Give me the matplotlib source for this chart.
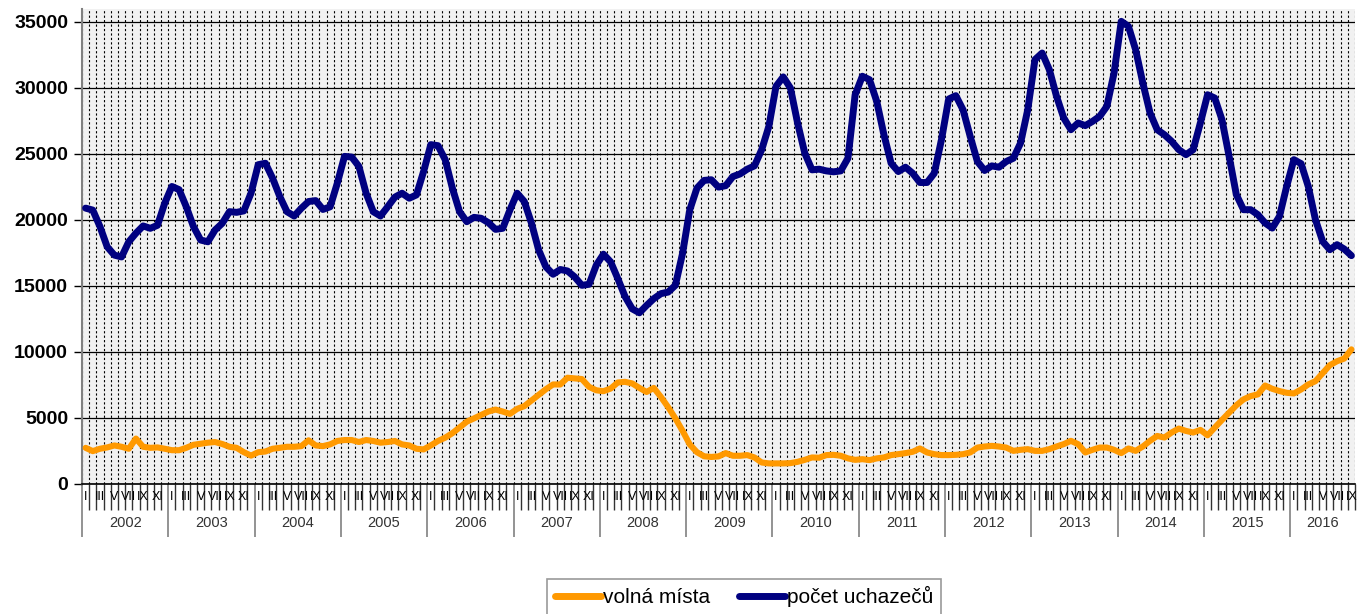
import numpy as np
import matplotlib
matplotlib.use("Agg")
import matplotlib.pyplot as plt
from matplotlib.transforms import blended_transform_factory

plt.rcParams["font.family"] = ["Liberation Sans", "DejaVu Sans"]

# monthly values, Jan 2002 - Sep 2016
years = [str(y) for y in range(2002, 2017)]
month_labels = ["I", "", "III", "", "V", "", "VII", "", "IX", "", "XI", ""]

volna_mista = [
    2740, 2490, 2670, 2770, 2920, 2820, 2670, 3440, 2820, 2740, 2770, 2670,   # 2002
    2560, 2560, 2740, 2970, 3050, 3130, 3180, 3030, 2820, 2740, 2410, 2150,   # 2003
    2410, 2460, 2670, 2740, 2820, 2820, 2870, 3310, 2920, 2870, 3000, 3260,   # 2004
    3330, 3330, 3180, 3330, 3260, 3130, 3180, 3260, 3000, 2920, 2670, 2620,   # 2005
    2920, 3260, 3510, 3850, 4280, 4720, 4970, 5230, 5490, 5640, 5490, 5310,   # 2006
    5690, 5900, 6330, 6770, 7180, 7540, 7540, 8050, 8000, 7950, 7360, 7100,   # 2007
    7030, 7230, 7690, 7740, 7620, 7280, 6970, 7280, 6590, 5820, 4970, 4030,   # 2008
    3000, 2410, 2100, 2050, 2090, 2340, 2140, 2140, 2190, 2010, 1630, 1560,   # 2009
    1560, 1560, 1580, 1680, 1830, 2010, 1990, 2190, 2210, 2140, 1940, 1830,   # 2010
    1880, 1810, 1940, 2010, 2190, 2260, 2340, 2440, 2690, 2390, 2260, 2190,   # 2011
    2190, 2210, 2260, 2390, 2760, 2840, 2890, 2840, 2760, 2510, 2590, 2640,   # 2012
    2510, 2510, 2640, 2840, 3020, 3270, 3020, 2390, 2590, 2760, 2760, 2590,   # 2013
    2340, 2690, 2510, 2840, 3270, 3640, 3520, 3900, 4200, 4020, 3900, 4100,   # 2014
    3690, 4270, 4850, 5400, 5960, 6410, 6660, 6790, 7460, 7210, 7040, 6910,   # 2015
    6860, 7160, 7540, 7790, 8400, 9000, 9300, 9500, 10200,                    # 2016
]

pocet_uchazecu = [
    20900, 20750, 19500, 17970, 17340, 17200, 18350, 19000, 19550, 19370, 19600, 21270,  # 2002
    22540, 22300, 21000, 19500, 18480, 18350, 19240, 19750, 20630, 20580, 20690, 22030,  # 2003
    24190, 24300, 23170, 21780, 20630, 20300, 20890, 21400, 21470, 20800, 21000, 22790,  # 2004
    24820, 24770, 24060, 22030, 20630, 20300, 21000, 21730, 22030, 21650, 21900, 23680,  # 2005
    25710, 25630, 24570, 22410, 20630, 19870, 20200, 20130, 19800, 19290, 19370, 20760,  # 2006
    22030, 21400, 19750, 17720, 16450, 15890, 16250, 16140, 15690, 15050, 15130, 16570,  # 2007
    17410, 16830, 15560, 14210, 13270, 12970, 13530, 14040, 14420, 14540, 15050, 17460,  # 2008
    20760, 22410, 23000, 23050, 22490, 22600, 23290, 23490, 23850, 24100, 25320, 27090,  # 2009
    30130, 30840, 30000, 27340, 25060, 23800, 23850, 23720, 23650, 23720, 24680, 29490,  # 2010
    30890, 30630, 28990, 26460, 24300, 23670, 24000, 23540, 22840, 22840, 23540, 26080,  # 2011
    29160, 29420, 28350, 26330, 24430, 23750, 24100, 24000, 24430, 24680, 25830, 28360,  # 2012
    32150, 32650, 31390, 29370, 27730, 26840, 27350, 27150, 27470, 27850, 28610, 31140,  # 2013
    35050, 34670, 32900, 30380, 28110, 26840, 26460, 25960, 25330, 24950, 25330, 27350,  # 2014
    29490, 29240, 27600, 24820, 21920, 20780, 20780, 20400, 19770, 19390, 20280, 22550,  # 2015
    24570, 24270, 22550, 20030, 18380, 17750, 18130, 17800, 17300,                      # 2016
]

ORANGE = "#ff9900"
NAVY = "#000080"
GREY = "#808080"

n = len(pocet_uchazecu)
x = np.arange(n)

fig = plt.figure(figsize=(13.57, 6.14), dpi=100)
ax = fig.add_axes([82 / 1357, 1 - 484 / 614, 1273 / 1357, (484 - 8.8) / 614])
ax.set_facecolor("#f1f1f1")

ax.plot(x, volna_mista, color=ORANGE, lw=4.4, solid_joinstyle="round",
        solid_capstyle="round", label="volná místa", zorder=3)
ax.plot(x, pocet_uchazecu, color=NAVY, lw=5.0, solid_joinstyle="round",
        solid_capstyle="round", label="počet uchazečů", zorder=3)

ax.set_xlim(-0.5, n - 0.5)
ax.set_ylim(0, 36000)
ax.set_yticks(np.arange(0, 35001, 5000))
ax.set_yticklabels([str(v) for v in range(0, 35001, 5000)], fontsize=14, fontweight="bold")
ax.tick_params(axis="y", length=6, width=1, color="black", pad=4)

# month boundaries (minor) and year boundaries (major)
year_edges = np.arange(-0.5, n, 12)
ax.set_xticks(year_edges)
ax.set_xticks(np.arange(-0.5, n, 1), minor=True)
ax.set_xticklabels([])
ax.tick_params(axis="x", which="major", length=38, width=1.2, color=GREY)
ax.tick_params(axis="x", which="minor", length=19, width=1, color="#333333")

ax.grid(which="minor", axis="x", color="black", lw=0.8, ls=(0, (2, 2)))
ax.grid(which="major", axis="x", color="black", lw=0.8, ls=(0, (2, 2)))
ax.grid(which="major", axis="y", color="black", lw=0.9, ls="-")
ax.set_axisbelow(True)

for side in ("top", "right"):
    ax.spines[side].set_visible(False)
ax.spines["left"].set_color(GREY)
ax.spines["left"].set_linewidth(1.5)
ax.spines["bottom"].set_color("black")
ax.spines["bottom"].set_linewidth(1.2)

tr = blended_transform_factory(ax.transData, ax.transAxes)
for i in range(n):
    lab = month_labels[i % 12]
    if lab:
        ax.annotate(lab, (i, 0), xycoords=tr, xytext=(0, -13), textcoords="offset pixels",
                    ha="center", va="center", fontsize=9, color="black")
for k, yr in enumerate(years):
    start = k * 12
    end = min(start + 12, n)
    ax.annotate(yr, ((start + end - 1) / 2, 0), xycoords=tr, xytext=(0, -39),
                textcoords="offset pixels", ha="center", va="center",
                fontsize=10.5, color="#333333")

leg = fig.legend(loc="upper center", bbox_to_anchor=(744 / 1357, 1 - 579 / 614),
                 ncol=2, frameon=True, fancybox=False, fontsize=15,
                 handlelength=2.2, handletextpad=0.1, columnspacing=1.4,
                 borderpad=0.35, borderaxespad=0)
leg.get_frame().set_edgecolor(GREY)
leg.get_frame().set_linewidth(1.2)
for line in leg.get_lines():
    line.set_linewidth(5)

fig.savefig("out.png", dpi=100, facecolor="white")
